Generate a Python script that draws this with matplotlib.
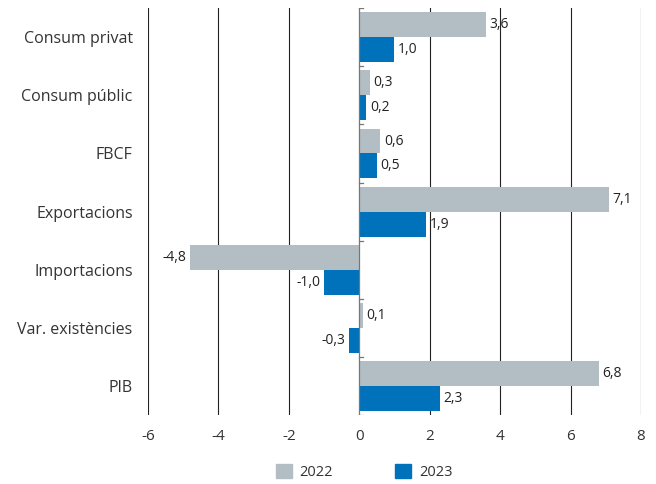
import numpy as np
import matplotlib
matplotlib.use('Agg')
import matplotlib.pyplot as plt
from matplotlib.patches import Rectangle

plt.rcParams['font.family'] = ['Open Sans', 'DejaVu Sans']

categories = ['Consum privat', 'Consum públic', 'FBCF', 'Exportacions',
              'Importacions', 'Var. existències', 'PIB']
vals_2022 = [3.6, 0.3, 0.6, 7.1, -4.8, 0.1, 6.8]
vals_2023 = [1.0, 0.2, 0.5, 1.9, -1.0, -0.3, 2.3]
series_names = ['2022', '2023']
x_ticks = [-6, -4, -2, 0, 2, 4, 6, 8]

c_2022 = '#b3bec4'
c_2023 = '#0071bb'
txt = '#333333'

fig = plt.figure(figsize=(6.56, 4.84), dpi=100)
ax = fig.add_axes([0.2256, 0.1426, 0.7515, 0.8404])

n = len(categories)
y = np.arange(n)
h = 0.43
ax.barh(y - h / 2, vals_2022, height=h, color=c_2022, zorder=3)
ax.barh(y + h / 2, vals_2023, height=h, color=c_2023, zorder=3)

def fmt(v):
    return f'{v:.1f}'.replace('.', ',')

for vals, off in ((vals_2022, -h / 2), (vals_2023, h / 2)):
    for yi, v in zip(y, vals):
        if v >= 0:
            ax.text(v + 0.1, yi + off, fmt(v), ha='left', va='center',
                    fontsize=10, color='#222222', zorder=4)
        else:
            ax.text(v - 0.1, yi + off, fmt(v), ha='right', va='center',
                    fontsize=10, color='#222222', zorder=4)

ax.set_xlim(-6, 8)
ax.set_ylim(n - 0.5, -0.5)
ax.set_xticks(x_ticks)
ax.set_xticklabels([str(t) for t in x_ticks], fontsize=11, color=txt)
ax.set_yticks(y)
ax.set_yticklabels(categories, fontsize=11.5, color=txt)
ax.tick_params(axis='both', length=0)
ax.tick_params(axis='x', pad=10)
ax.tick_params(axis='y', pad=11)
for s in ax.spines.values():
    s.set_visible(False)

for t in x_ticks:
    if t != 0:
        ax.axvline(t, color='#222222', lw=0.8, zorder=1)
ax.axvline(0, color='#777777', lw=0.9, zorder=5)
for b in np.arange(n + 1) - 0.5:
    ax.plot([0, 0.12], [b, b], color='#777777', lw=0.9, zorder=5)

# legend
handles = [Rectangle((0, 0), 1, 1, color=c_2022), Rectangle((0, 0), 1, 1, color=c_2023)]
leg = fig.legend(handles, series_names, loc='center', bbox_to_anchor=(0.555, 0.025),
                 ncol=2, frameon=False, fontsize=10.5, handlelength=1.1, handleheight=1.1,
                 columnspacing=4.3, handletextpad=0.5)
for t in leg.get_texts():
    t.set_color(txt)

fig.savefig('out.png', dpi=100)
